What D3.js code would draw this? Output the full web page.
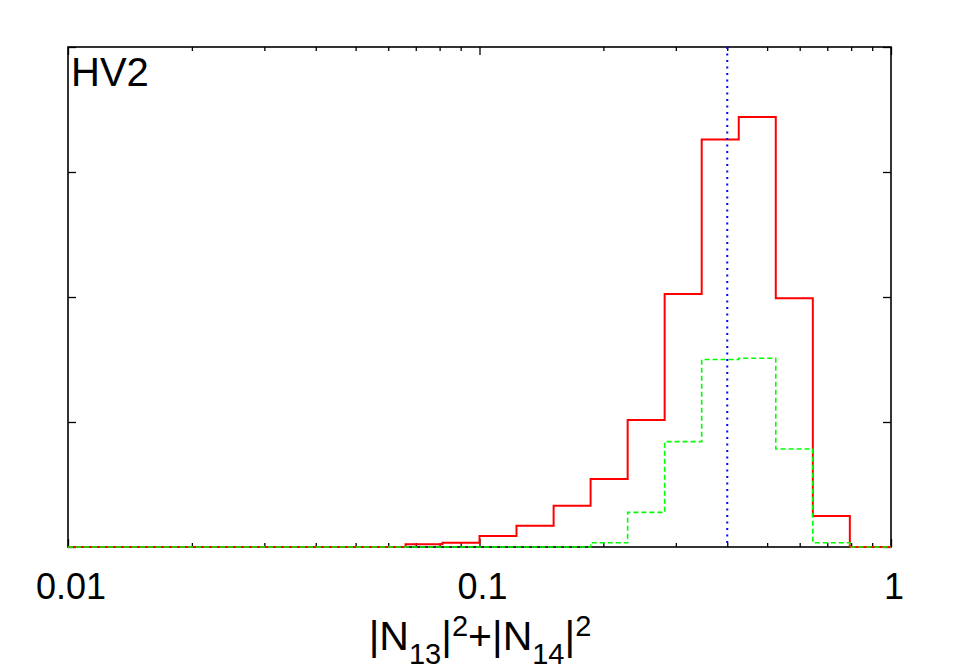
<!DOCTYPE html>
<html>
<head>
<meta charset="utf-8">
<script src="https://cdn.jsdelivr.net/npm/d3@7"></script>
<style>
  html, body { margin: 0; padding: 0; background: #fff; }
  svg { display: block; }
  text { font-family: "Liberation Sans", Arial, Helvetica, sans-serif; fill: #000; }
</style>
</head>
<body>
<svg id="chart" width="960" height="665"></svg>
<script>
// ---- data ----
const panelLabel = "HV2";
// histogram bin edges (log-spaced)
const binEdges = [0.0661, 0.0813, 0.1, 0.1230, 0.1514, 0.1862, 0.2291, 0.2818, 0.3467, 0.4266, 0.5248, 0.6457, 0.7943, 0.9772];
// red (solid) histogram, one value per bin
const redCounts = [0.022, 0.034, 0.088, 0.17, 0.33, 0.544, 1.016, 2.024, 3.26, 3.44, 1.99, 0.248, 0];
// green (dashed) histogram
const greenCounts = [0, 0, 0, 0, 0, 0.034, 0.277, 0.843, 1.50, 1.51, 0.784, 0.034, 0];
// vertical dotted reference line
const refValue = 0.40;
const xTickValues = [0.01, 0.1, 1];
const xTickLabels = ["0.01", "0.1", "1"];
const yTickValues = [0, 1, 2, 3, 4];

// ---- layout ----
const L = 68, R = 891, T = 47, B = 547;
const svg = d3.select("#chart");
const x = d3.scaleLog().domain([0.01, 1]).range([L, R]);
const y = d3.scaleLinear().domain([0, 4]).range([B, T]);

function stepPoints(counts) {
  const pts = [[0.01, 0]];
  counts.forEach((c, i) => pts.push([binEdges[i], c]));
  pts.push([1, 0]);
  return pts;
}
const line = d3.line().x(d => x(d[0])).y(d => y(d[1])).curve(d3.curveStepAfter);

// axes frame
svg.append("rect").attr("x", L).attr("y", T).attr("width", R - L).attr("height", B - T)
  .attr("fill", "none").attr("stroke", "#000").attr("stroke-width", 1.6);

// x ticks (major + minor), bottom and top, inward
const minor = [];
for (let d = 0.01; d < 1; d *= 10) for (let k = 2; k <= 9; k++) minor.push(d * k);
const xAxisB = d3.axisBottom(x).tickValues(xTickValues).tickSize(-8).tickFormat("");
const xAxisBm = d3.axisBottom(x).tickValues(minor).tickSize(-4).tickFormat("");
const xAxisT = d3.axisTop(x).tickValues(xTickValues).tickSize(-8).tickFormat("");
const xAxisTm = d3.axisTop(x).tickValues(minor).tickSize(-4).tickFormat("");
[[xAxisB, B], [xAxisBm, B], [xAxisT, T], [xAxisTm, T]].forEach(([ax, ty]) => {
  const g = svg.append("g").attr("transform", `translate(0,${ty})`).call(ax);
  g.select(".domain").remove();
  g.selectAll("line").attr("stroke", "#000").attr("stroke-width", 1.3);
});
// y ticks left and right, inward, no labels
const yAxisL = d3.axisLeft(y).tickValues(yTickValues).tickSize(-8).tickFormat("");
const yAxisR = d3.axisRight(y).tickValues(yTickValues).tickSize(-8).tickFormat("");
[[yAxisL, L], [yAxisR, R]].forEach(([ax, tx]) => {
  const g = svg.append("g").attr("transform", `translate(${tx},0)`).call(ax);
  g.select(".domain").remove();
  g.selectAll("line").attr("stroke", "#000").attr("stroke-width", 1.3);
});

// x tick labels
svg.append("g").selectAll("text").data(xTickValues).join("text")
  .attr("x", d => x(d) + 3).attr("y", 599)
  .attr("text-anchor", "middle").attr("font-size", 36)
  .text((d, i) => xTickLabels[i]);

// histograms
svg.append("path").datum(stepPoints(redCounts)).attr("d", line)
  .attr("fill", "none").attr("stroke", "#ff0000").attr("stroke-width", 2);
svg.append("path").datum(stepPoints(greenCounts)).attr("d", line)
  .attr("fill", "none").attr("stroke", "#00ff00").attr("stroke-width", 1.6)
  .attr("stroke-dasharray", "5,3");

// reference dotted line
svg.append("line").attr("x1", x(refValue)).attr("x2", x(refValue))
  .attr("y1", T).attr("y2", B)
  .attr("stroke", "#0000ff").attr("stroke-width", 2).attr("stroke-dasharray", "2,4.5");

// panel label
svg.append("text").attr("x", 71).attr("y", 86).attr("font-size", 40).text(panelLabel);

// x-axis title: |N13|^2+|N14|^2
const title = svg.append("text").attr("x", 480).attr("y", 650)
  .attr("text-anchor", "middle").attr("font-size", 41);
title.append("tspan").text("|N");
title.append("tspan").attr("font-size", 29).attr("dy", 14).text("13");
title.append("tspan").attr("dy", -14).text("|");
title.append("tspan").attr("font-size", 29).attr("dy", -14).text("2");
title.append("tspan").attr("dy", 14).text("+|N");
title.append("tspan").attr("font-size", 29).attr("dy", 14).text("14");
title.append("tspan").attr("dy", -14).text("|");
title.append("tspan").attr("font-size", 29).attr("dy", -14).text("2");
</script>
</body>
</html>
